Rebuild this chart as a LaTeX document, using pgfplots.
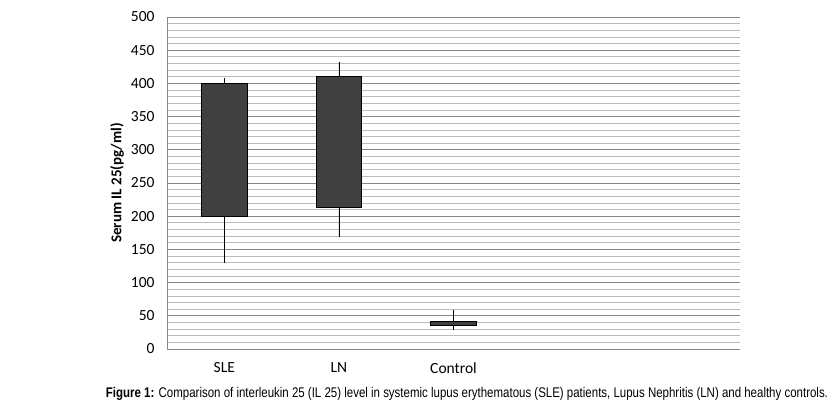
\documentclass[border=0pt]{standalone}
\usepackage{fontspec}
\setmainfont{Carlito}
\newfontfamily\capfont[FakeStretch=0.82]{Liberation Sans}
\usepackage{pgfplots}
\pgfplotsset{compat=1.18}
\usepgfplotslibrary{statistics}

\definecolor{boxfill}{HTML}{404040}
\definecolor{majorgrid}{HTML}{868686}
\definecolor{minorgrid}{HTML}{BBBBBB}

\newcommand{\tickfont}{\fontsize{15.5bp}{18bp}\selectfont}

\begin{document}
\begin{tikzpicture}
\useasboundingbox (0,0) rectangle (833bp,406bp);
\begin{axis}[
    at={(167bp,57bp)}, anchor=south west,
    scale only axis,
    width=573bp, height=332bp,
    xmin=0.5, xmax=5.5,
    ymin=0, ymax=500,
    xtick={1,2,3},
    xticklabels={SLE,LN,Control},
    ytick={0,50,100,150,200,250,300,350,400,450,500},
    yticklabels={0,50,100,150,200,250,300,350,400,450,500},
    minor y tick num=4,
    ymajorgrids, yminorgrids,
    major grid style={majorgrid, line width=0.9pt},
    minor grid style={minorgrid, line width=0.7pt},
    axis x line*=bottom, axis y line*=left,
    axis line style={majorgrid, line width=0.9pt},
    major tick length=0pt, minor tick length=0pt,
    yticklabel style={font=\tickfont, xshift=-9bp},
    xticklabel style={font=\tickfont, yshift=-10bp},
    ylabel={Serum IL 25(pg/ml)},
    ylabel style={at={(axis description cs:-0.087,0.5)}, anchor=center,
        font=\bfseries\fontsize{15bp}{18bp}\selectfont},
    boxplot/draw direction=y,
    boxplot/box extend=0.4,
    boxplot/whisker extend=0,
]
\addplot[draw=black, fill=boxfill, line width=0.8pt, solid,
    boxplot prepared={draw position=1,
        lower whisker=129, lower quartile=199, median=199,
        upper quartile=400, upper whisker=408}]
    coordinates {};
\addplot[draw=black, fill=boxfill, line width=0.8pt, solid,
    boxplot prepared={draw position=2,
        lower whisker=169, lower quartile=213, median=213,
        upper quartile=411, upper whisker=432}]
    coordinates {};
\addplot[draw=black, fill=boxfill, line width=0.8pt, solid,
    boxplot prepared={draw position=3,
        lower whisker=28, lower quartile=36, median=36,
        upper quartile=42, upper whisker=59}]
    coordinates {};
\end{axis}
\node[anchor=center, inner sep=0pt] at (467bp,12bp)
    {\capfont\fontsize{14bp}{16bp}\selectfont\textbf{Figure 1:} Comparison of interleukin 25 (IL 25) level in systemic lupus erythematous (SLE) patients, Lupus Nephritis (LN) and healthy controls.};
\end{tikzpicture}
\end{document}
